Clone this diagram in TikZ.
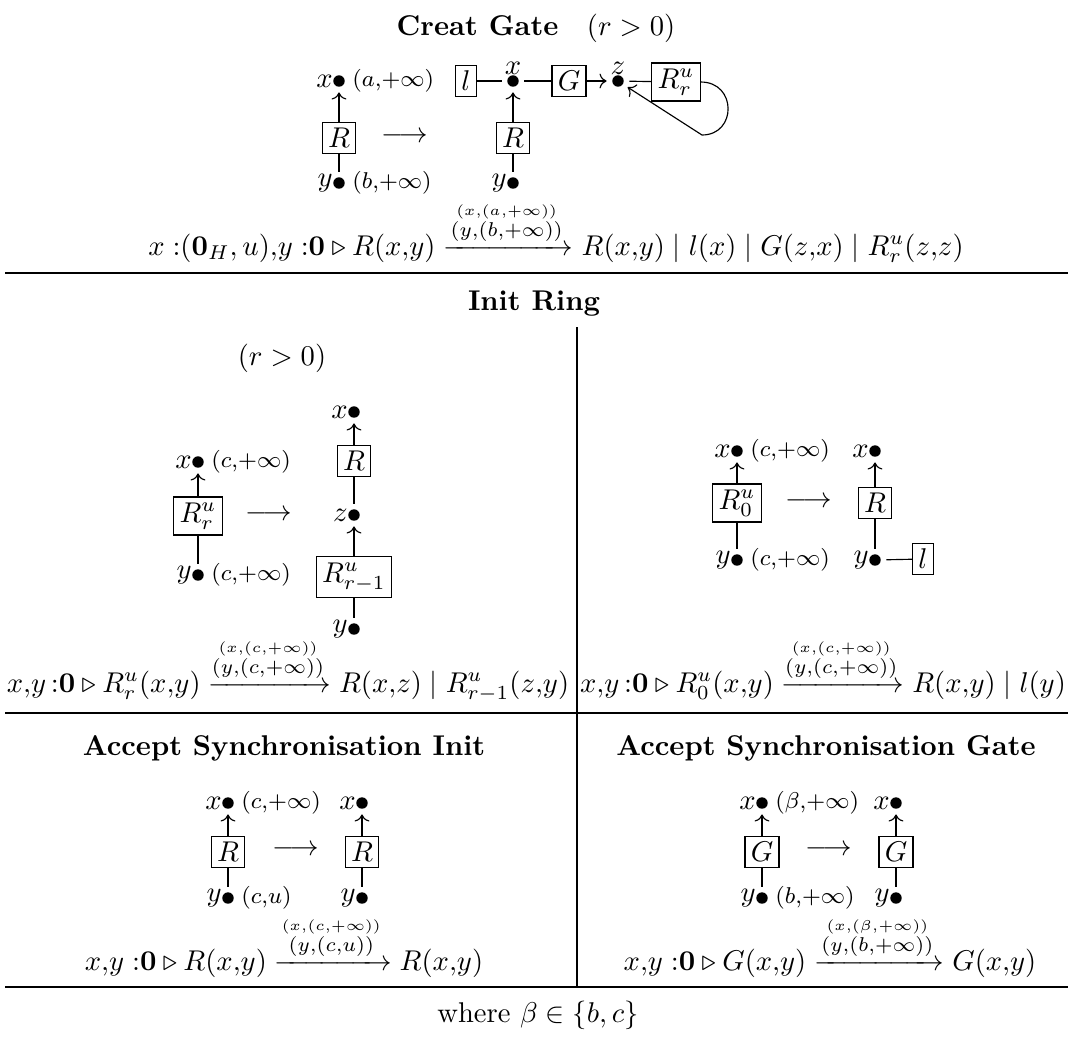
\documentclass[tikz,border=0pt]{standalone}
\usepackage{amsmath,amssymb}
\usepackage{tikz}
\usetikzlibrary{arrows.meta, positioning, calc}

\begin{document}
\begin{tikzpicture}[
    x=0.35pt, y=-0.35pt,
    proc/.style={rectangle, draw, inner sep=2pt},
    dot/.style={circle, fill, inner sep=0pt, minimum size=4pt, outer sep=2pt},
    ann/.style={font=\footnotesize, inner sep=0.5pt},
    lab/.style={inner sep=0.5pt, label distance=-2.5pt},
    title/.style={anchor=base, font=\bfseries},
    rule/.style={anchor=base},
    arrow/.style={->}
]
\useasboundingbox (0,0) rectangle (1068,1039);

% Creat Gate
\node[title] (cgtitle) at (536,35) {Creat Gate\quad$(r>0)$};
\node[dot, label={[lab]left:$x$}, label={[ann]right:$(a{,}{+}\infty)$}] (cgx) at (339,81) {};
\node[proc] (cgR) at (339,138) {$R$};
\node[dot, label={[lab]left:$y$}, label={[ann]right:$(b{,}{+}\infty)$}] (cgy) at (339,183) {};
\draw[arrow] (cgR) -- (cgx);
\draw (cgR) -- (cgy);
\node (cgto) at (405,137) {$\longrightarrow$};

\node[proc] (cgl) at (466,81) {$l$};
\node[dot, label={[lab]above:$x$}] (cgx2) at (513,81) {};
\node[proc] (cgG) at (569,81) {$G$};
\node[dot, label={[lab]above:$z$}] (cgz) at (618,81) {};
\node[proc] (cgRr) at (676,82) {$R^u_r$};
\node[proc] (cgR2) at (513,138) {$R$};
\node[dot, label={[lab]left:$y$}] (cgy2) at (513,183) {};
\coordinate (cgloop) at (702,135);
\draw (cgl) -- (cgx2);
\draw (cgx2) -- (cgG);
\draw[arrow] (cgG) -- (cgz);
\draw (cgz) -- (cgRr);
\draw[arrow] (cgRr.east) .. controls (737,82) and (737,135) .. (cgloop) -- (cgz);
\draw[arrow] (cgR2) -- (cgx2);
\draw (cgR2) -- (cgy2);

\node[rule] (cgrule) at (556,255) {$x\;{:}(\mathbf{0}_H,u){,}y\;{:}\mathbf{0}\triangleright R(x{,}y)\xrightarrow{\overset{(x{,}(a{,}{+}\infty))}{(y{,}(b{,}{+}\infty))}}R(x{,}y)\mid l(x)\mid G(z{,}x)\mid R^u_r(z{,}z)$};

% Separators
\coordinate (h1w) at (5,273);
\coordinate (h1e) at (1068,273);
\coordinate (h2w) at (5,713);
\coordinate (h2e) at (1068,713);
\coordinate (h3w) at (5,987);
\coordinate (h3e) at (1068,987);
\coordinate (v1n) at (577,327);
\coordinate (v1m) at (577,713);
\coordinate (v1s) at (577,987);
\draw (h1w) -- (h1e);
\draw (h2w) -- (h2e);
\draw (h3w) -- (h3e);
\draw (v1n) -- (v1m) -- (v1s);

% Init Ring
\node[title] (irtitle) at (534,310) {Init Ring};
\node (irr) at (282,358) {$(r>0)$};
\node[dot, label={[lab]left:$x$}, label={[ann]right:$(c{,}{+}\infty)$}] (irx) at (198,462) {};
\node[proc] (irR) at (198,516) {$R^u_r$};
\node[dot, label={[lab]left:$y$}, label={[ann]right:$(c{,}{+}\infty)$}] (iry) at (198,575) {};
\draw[arrow] (irR) -- (irx);
\draw (irR) -- (iry);
\node (irto) at (269,515) {$\longrightarrow$};

\node[dot, label={[lab]left:$x$}] (irx2) at (354,412) {};
\node[proc] (irR2) at (354,461) {$R$};
\node[dot, label={[lab]left:$z$}] (irz) at (354,515) {};
\node[proc] (irR3) at (354,577) {$R^u_{r-1}$};
\node[dot, label={[lab]left:$y$}] (iry2) at (354,629) {};
\draw[arrow] (irR2) -- (irx2);
\draw (irR2) -- (irz);
\draw[arrow] (irR3) -- (irz);
\draw (irR3) -- (iry2);

\node[rule] (irrule) at (288,692) {$x{,}y\,{:}\mathbf{0}\triangleright R^u_r(x{,}y)\xrightarrow{\!\overset{(x{,}(c{,}{+}\infty))}{(y{,}(c{,}{+}\infty))}\!}R(x{,}z)\mid R^u_{r-1}(z{,}y)$};

\node[dot, label={[lab]left:$x$}, label={[ann]right:$(c{,}{+}\infty)$}] (i0x) at (737,451) {};
\node[proc] (i0R) at (737,503) {$R^u_0$};
\node[dot, label={[lab]left:$y$}, label={[ann]right:$(c{,}{+}\infty)$}] (i0y) at (737,560) {};
\draw[arrow] (i0R) -- (i0x);
\draw (i0R) -- (i0y);
\node (i0to) at (809,502) {$\longrightarrow$};

\node[dot, label={[lab]left:$x$}] (i0x2) at (875,451) {};
\node[proc] (i0R2) at (875,503) {$R$};
\node[dot, label={[lab]left:$y$}] (i0y2) at (875,560) {};
\node[proc] (i0l) at (923,559) {$l$};
\draw[arrow] (i0R2) -- (i0x2);
\draw (i0R2) -- (i0y2);
\draw (i0y2) -- (i0l);

\node[rule] (i0rule) at (823,692) {$x{,}y\,{:}\mathbf{0}\triangleright R^u_0(x{,}y)\xrightarrow{\!\overset{(x{,}(c{,}{+}\infty))}{(y{,}(c{,}{+}\infty))}\!}R(x{,}y)\mid l(y)$};

% Accept Synchronisation Init
\node[title] (astitle) at (284,755) {Accept Synchronisation Init};
\node[dot, label={[lab]left:$x$}, label={[ann]right:$(c{,}{+}\infty)$}] (asx) at (228,803) {};
\node[proc] (asR) at (228,852) {$R$};
\node[dot, label={[lab]left:$y$}, label={[ann]right:$(c{,}u)$}] (asy) at (228,898) {};
\draw[arrow] (asR) -- (asx);
\draw (asR) -- (asy);
\node (asto) at (296,850) {$\longrightarrow$};
\node[dot, label={[lab]left:$x$}] (asx2) at (362,803) {};
\node[proc] (asR2) at (362,852) {$R$};
\node[dot, label={[lab]left:$y$}] (asy2) at (362,898) {};
\draw[arrow] (asR2) -- (asx2);
\draw (asR2) -- (asy2);

\node[rule] (asrule) at (284,970) {$x{,}y\;{:}\mathbf{0}\triangleright R(x{,}y)\xrightarrow{\overset{(x{,}(c{,}{+}\infty))}{(y{,}(c{,}u))}}R(x{,}y)$};

% Accept Synchronisation Gate
\node[title] (agtitle) at (826,755) {Accept Synchronisation Gate};
\node[dot, label={[lab]left:$x$}, label={[ann]right:$(\beta{,}{+}\infty)$}] (agx) at (762,803) {};
\node[proc] (agG) at (762,852) {$G$};
\node[dot, label={[lab]left:$y$}, label={[ann]right:$(b{,}{+}\infty)$}] (agy) at (762,898) {};
\draw[arrow] (agG) -- (agx);
\draw (agG) -- (agy);
\node (agto) at (829,850) {$\longrightarrow$};
\node[dot, label={[lab]left:$x$}] (agx2) at (896,803) {};
\node[proc] (agG2) at (896,852) {$G$};
\node[dot, label={[lab]left:$y$}] (agy2) at (896,898) {};
\draw[arrow] (agG2) -- (agx2);
\draw (agG2) -- (agy2);

\node[rule] (agrule) at (830,970) {$x{,}y\;{:}\mathbf{0}\triangleright G(x{,}y)\xrightarrow{\overset{(x{,}(\beta{,}{+}\infty))}{(y{,}(b{,}{+}\infty))}}G(x{,}y)$};

% Footnote
\node[rule] (where) at (538,1022) {where $\beta\in\{b,c\}$};
\end{tikzpicture}
\end{document}
